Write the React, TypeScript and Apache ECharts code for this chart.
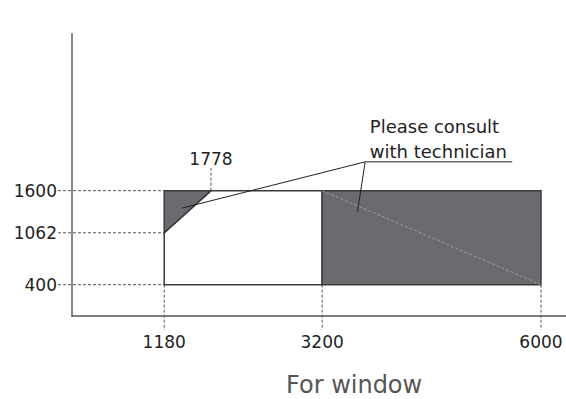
import React, { useEffect, useRef } from "react";
import * as echarts from "echarts";

const xTicks = [1180, 3200, 6000];
const yTicks = [1600, 1062, 400];
const peakX = 1778;
const peakLabel = "1778";
const peakLineTop = 1890;
const peakLabelY = 2006;
const triangle = [[1180, 1062], [1180, 1600], [1778, 1600]];
const allowedRegion = [[1180, 400], [1180, 1062], [1778, 1600], [3200, 1600], [3200, 400]];
const consultRect = [[3200, 400], [3200, 1600], [6000, 1600], [6000, 400]];
const diagonal = [[3200, 1600], [6000, 400]];
const noteLines = ["Please consult", "with technician"];
const noteTextX = 3810;
const noteTextY = [2425, 2095];
const noteAnchor = [3751, 1968];
const noteUnderlineEnd = 5632;
const notePointers = [[1410, 1378], [3652, 1331]];
const xName = "For window";

const FONT = "'DejaVu Sans', 'Noto Sans', sans-serif";
const DARK = "#6b6b6f";
const EDGE = "#3a3a3a";

export default function App() {
  const ref = useRef<HTMLDivElement>(null);
  useEffect(() => {
    const chart = echarts.init(ref.current!, null, { renderer: "svg" });
    const renderItem = (params: any, api: any) => {
      const c = (p: number[]) => api.coord(p);
      const children: any[] = [];
      const dash = { stroke: "#555", lineWidth: 1, lineDash: [3, 2] };
      yTicks.forEach((v) => {
        const a = c([0, v]);
        const b = c([1180, v]);
        children.push({ type: "line", shape: { x1: a[0] - 14, y1: a[1], x2: b[0], y2: b[1] }, style: dash });
      });
      xTicks.forEach((v) => {
        const a = c([v, 400]);
        const b = c([v, 0]);
        children.push({ type: "line", shape: { x1: a[0], y1: a[1], x2: b[0], y2: b[1] + 14 }, style: dash });
      });
      {
        const a = c([peakX, 1600]);
        const b = c([peakX, peakLineTop]);
        children.push({ type: "line", shape: { x1: a[0], y1: a[1], x2: b[0], y2: b[1] }, style: dash });
      }
      children.push({
        type: "polygon",
        shape: { points: allowedRegion.map(c) },
        style: { fill: "#fff", stroke: EDGE, lineWidth: 1.5 },
      });
      children.push({
        type: "polygon",
        shape: { points: triangle.map(c) },
        style: { fill: DARK, stroke: EDGE, lineWidth: 1.5 },
      });
      children.push({
        type: "polygon",
        shape: { points: consultRect.map(c) },
        style: { fill: DARK, stroke: EDGE, lineWidth: 1.5 },
      });
      {
        const a = c(diagonal[0]);
        const b = c(diagonal[1]);
        children.push({ type: "line", shape: { x1: a[0], y1: a[1], x2: b[0], y2: b[1] }, style: { stroke: "#a8a8aa", lineWidth: 0.8, lineDash: [3, 2] } });
      }
      const anc = c(noteAnchor);
      notePointers.forEach((p) => {
        const q = c(p);
        children.push({ type: "line", shape: { x1: anc[0], y1: anc[1], x2: q[0], y2: q[1] }, style: { stroke: "#222", lineWidth: 1 } });
      });
      const ue = c([noteUnderlineEnd, noteAnchor[1]]);
      children.push({ type: "line", shape: { x1: anc[0], y1: anc[1], x2: ue[0], y2: ue[1] }, style: { stroke: "#222", lineWidth: 1 } });
      noteLines.forEach((t, i) => {
        const p = c([noteTextX, noteTextY[i]]);
        children.push({ type: "text", x: p[0], y: p[1], style: { text: t, fill: "#222", font: `18px ${FONT}`, textAlign: "left", textVerticalAlign: "middle" } });
      });
      {
        const p = c([peakX, peakLabelY]);
        children.push({ type: "text", x: p[0], y: p[1], style: { text: peakLabel, fill: "#222", font: `17px ${FONT}`, textAlign: "center", textVerticalAlign: "middle" } });
      }
      yTicks.forEach((v) => {
        const p = c([0, v]);
        children.push({ type: "text", x: p[0] - 15, y: p[1], style: { text: String(v), fill: "#222", font: `17px ${FONT}`, textAlign: "right", textVerticalAlign: "middle" } });
      });
      xTicks.forEach((v) => {
        const p = c([v, 0]);
        children.push({ type: "text", x: p[0], y: p[1] + 26, style: { text: String(v), fill: "#222", font: `17px ${FONT}`, textAlign: "center", textVerticalAlign: "middle" } });
      });
      return { type: "group", children };
    };
    chart.setOption({
      animation: false,
      grid: { left: 72, right: 0, top: 34, bottom: 83 },
      xAxis: {
        type: "value", min: 0, max: 6320,
        axisLine: { show: true, lineStyle: { color: "#555", width: 1.5 } },
        axisTick: { show: false }, axisLabel: { show: false }, splitLine: { show: false },
      },
      yAxis: {
        type: "value", min: 0, max: 3600,
        axisLine: { show: true, lineStyle: { color: "#888", width: 2 } },
        axisTick: { show: false }, axisLabel: { show: false }, splitLine: { show: false },
      },
      graphic: [
        { type: "text", x: 286, y: 385, style: { text: xName, fill: "#555", font: `24px ${FONT}`, textVerticalAlign: "middle" } },
      ],
      series: [
        { type: "custom", clip: false, renderItem, data: [0], silent: true },
      ],
    });
    return () => chart.dispose();
  }, []);
  return <div ref={ref} style={{ width: 566, height: 399, position: "absolute", left: 0, top: 0 }} />;
}
